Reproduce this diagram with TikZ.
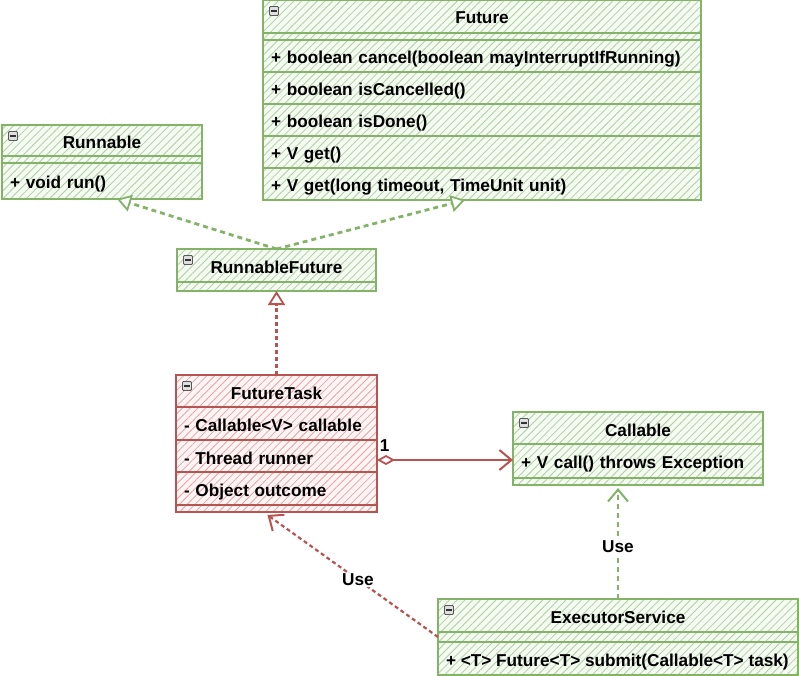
\documentclass[tikz,border=0pt]{standalone}
\usepackage{fontspec}
\setmainfont{Liberation Sans}
\usetikzlibrary{arrows.meta,patterns.meta,calc}
\definecolor{gline}{HTML}{82B366}
\definecolor{ghatch}{HTML}{ACD29E}
\definecolor{gbg}{HTML}{F5FAF3}
\definecolor{rline}{HTML}{B85450}
\definecolor{rhatch}{HTML}{EBA3A1}
\definecolor{rbg}{HTML}{FDF5F5}
\tikzset{
  cell/.style={anchor=north west, inner xsep=8pt, inner ysep=0pt, outer sep=0pt, line width=2pt, text height=16pt, text depth=0pt},
  gcell/.style={cell, draw=gline, preaction={fill=gbg}, pattern={Lines[angle=45,distance=5.5pt,line width=0.8pt]}, pattern color=ghatch},
  rcell/.style={cell, draw=rline, preaction={fill=rbg}, pattern={Lines[angle=45,distance=5.5pt,line width=0.8pt]}, pattern color=rhatch},
  strip/.style={text height=0pt, text depth=0pt},
  hdr/.style={align=center},
  row/.style={align=left},
  minus/.style={draw=gray!70!black, fill=gray!25, minimum size=9pt, inner sep=0pt, line width=0.8pt, rounded corners=1pt,
    path picture={\draw[line width=1.4pt, black!80] ([xshift=-3pt]path picture bounding box.center) -- ([xshift=3pt]path picture bounding box.center);}},
  gdash/.style={draw=gline, line width=2.8pt, dash pattern=on 5pt off 4pt},
  rdash/.style={draw=rline, line width=2.2pt, dash pattern=on 4pt off 3pt},
  realize/.style={-{Triangle[length=14pt,width=17pt,fill=white,line width=1.8pt]}},
  usetip/.style={-{Straight Barb[length=12pt,width=20pt,line width=2pt]}},
  lbl/.style={fill=white, inner sep=1pt, text=black},
}
\begin{document}
\begin{tikzpicture}[x=1pt, y=-1pt, font=\fontsize{17.2}{20}\selectfont\bfseries]
\useasboundingbox (0,0) rectangle (799,676);

% Future
\node[gcell, hdr, minimum height=33pt, text width=422pt, text height=14pt] (fh) at (263,0) {Future};
\node[gcell, strip, minimum height=7pt, text width=422pt] (fs) at (fh.south west) {};
\node[gcell, row, minimum height=32pt, text width=422pt] (f1) at (fs.south west) {+ boolean cancel(boolean mayInterruptIfRunning)};
\node[gcell, row, minimum height=32pt, text width=422pt] (f2) at (f1.south west) {+ boolean isCancelled()};
\node[gcell, row, minimum height=32pt, text width=422pt] (f3) at (f2.south west) {+ boolean isDone()};
\node[gcell, row, minimum height=32pt, text width=422pt] (f4) at (f3.south west) {+ V get()};
\node[gcell, row, minimum height=32pt, text width=422pt] (f5) at (f4.south west) {+ V get(long timeout, TimeUnit unit)};
\node[minus] (fm) at ([xshift=11pt,yshift=-11pt]fh.north west) {};

% Runnable
\node[gcell, hdr, minimum height=31pt, text width=184pt] (rh) at (2,125) {Runnable};
\node[gcell, strip, minimum height=7pt, text width=184pt] (rs) at (rh.south west) {};
\node[gcell, row, minimum height=36pt, text width=184pt] (r1) at (rs.south west) {+ void run()};
\node[minus] (rm) at ([xshift=11pt,yshift=-11pt]rh.north west) {};

% RunnableFuture
\node[gcell, hdr, minimum height=33pt, text width=183pt] (rfh) at (177,249) {RunnableFuture};
\node[gcell, strip, minimum height=9pt, text width=183pt] (rfs) at (rfh.south west) {};
\node[minus] (rfm) at ([xshift=11pt,yshift=-11pt]rfh.north west) {};

% FutureTask
\node[rcell, hdr, minimum height=32pt, text width=185pt] (fth) at (176,375) {FutureTask};
\node[rcell, row, minimum height=33pt, text width=185pt] (ft1) at (fth.south west) {- Callable<V> callable};
\node[rcell, row, minimum height=32pt, text width=185pt] (ft2) at (ft1.south west) {- Thread runner};
\node[rcell, row, minimum height=33pt, text width=185pt] (ft3) at (ft2.south west) {- Object outcome};
\node[rcell, strip, minimum height=7pt, text width=185pt] (fts) at (ft3.south west) {};
\node[minus] (ftm) at ([xshift=11pt,yshift=-11pt]fth.north west) {};

% Callable
\node[gcell, hdr, minimum height=32pt, text width=234pt] (ch) at (513,412) {Callable};
\node[gcell, row, minimum height=34pt, text width=234pt, text height=15pt] (c1) at (ch.south west) {+ V call() throws Exception};
\node[gcell, strip, minimum height=7pt, text width=234pt] (cs) at (c1.south west) {};
\node[minus] (cm) at ([xshift=11pt,yshift=-11pt]ch.north west) {};

% ExecutorService
\node[gcell, hdr, minimum height=33pt, text width=344pt, text height=15pt] (eh) at (438,599) {ExecutorService};
\node[gcell, strip, minimum height=10pt, text width=344pt] (es) at (eh.south west) {};
\node[gcell, minimum height=33pt, inner xsep=6pt] (e1) at (es.south west) {\makebox[348pt][l]{\hspace*{2pt}+ <T> Future<T> submit(Callable<T> task)}};
\node[minus] (em) at ([xshift=11pt,yshift=-11pt]eh.north west) {};

% connectors
\draw[gdash, realize] (rfh.north) -- ([xshift=15pt]r1.south);
\draw[gdash, realize] (rfh.north) -- ([xshift=-17pt]f5.south);
\draw[rdash, realize] (fth.north) -- (rfs.south);
\draw[draw=rline, line width=1.8pt, {Diamond[length=18pt,width=10pt,fill=white,line width=1.8pt]}-{Straight Barb[length=12pt,width=20pt,line width=2pt]}]
  ([yshift=-4pt]ft2.east) -- ([yshift=1pt]c1.west)
  node[pos=0, anchor=south west, inner sep=0pt, xshift=2pt, yshift=8pt, text=black] (one) {1};
\draw[rdash, usetip] (es.west) -- ([xshift=-9pt,yshift=-3pt]fts.south) node[lbl, pos=0.47] (use1) {Use};
\draw[gdash, usetip] (eh.north) -- ([xshift=-20pt,yshift=-3pt]cs.south) node[lbl, pos=0.47] (use2) {Use};
\end{tikzpicture}
\end{document}
